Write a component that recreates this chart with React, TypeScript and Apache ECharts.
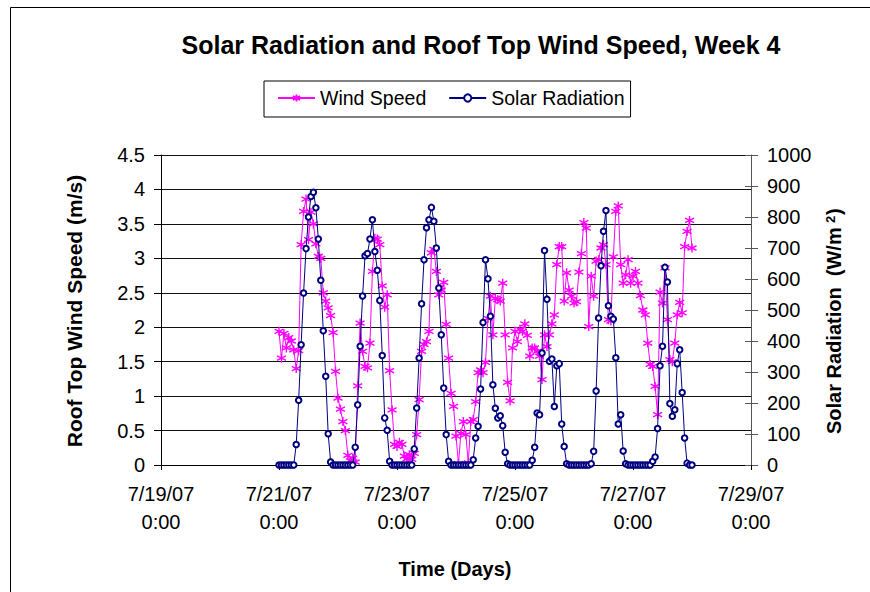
import React, { useEffect, useRef } from "react";
import * as echarts from "echarts";

// Hourly readings starting 7/21/07 0:00; x is measured in hours from 7/19/07 0:00.
const FIRST_HOUR = 48;
const HOURS_PER_TICK = 48;

const xTickLabels = [
  "7/19/07\n0:00",
  "7/21/07\n0:00",
  "7/23/07\n0:00",
  "7/25/07\n0:00",
  "7/27/07\n0:00",
  "7/29/07\n0:00",
];

// Roof top wind speed (m/s), one value per hour
const windSpeed = [
  1.94, 1.55, 1.91, 1.7, 1.85, 1.8, 1.67, 1.4, 1.66, 3.2,
  3.68, 3.86, 3.27, 3.67, 3.5, 3.21, 3.03, 3.0, 2.5, 2.38,
  2.28, 2.17, 1.92, 1.36, 0.97, 0.81, 0.63, 0.5, 0.14, 0.06,
  0.1, 0.04, 1.15, 2.06, 1.65, 1.43, 1.41, 1.77, 2.81, 3.29,
  3.28, 3.2, 2.6, 2.29, 2.47, 1.37, 0.8, 0.3, 0.27, 0.33,
  0.3, 0.13, 0.09, 0.15, 0.08, 0.17, 0.44, 0.95, 1.65, 1.75,
  1.79, 1.94, 3.08, 3.13, 2.81, 2.47, 2.54, 2.65, 2.04, 1.55,
  1.04, 0.85, 0.42, 0.02, 0.46, 0.63, 0.44, 0.03, 0.63, 0.66,
  0.92, 1.34, 1.38, 1.34, 1.49, 2.13, 2.45, 1.89, 2.42, 2.4,
  2.38, 2.64, 1.89, 1.2, 0.93, 1.7, 1.94, 1.79, 1.97, 1.94,
  2.05, 1.88, 1.58, 1.7, 1.7, 1.65, 1.58, 1.24, 1.89, 1.72,
  1.89, 2.05, 2.18, 2.91, 3.17, 3.17, 2.38, 2.79, 2.54, 2.45,
  2.35, 2.37, 2.8, 3.07, 3.52, 3.44, 2.01, 2.74, 2.45, 2.96,
  2.98, 3.15, 3.2, 2.91, 2.11, 2.09, 3.02, 3.68, 3.76, 2.91,
  2.64, 2.76, 2.98, 2.64, 2.74, 2.81, 2.64, 2.46, 2.25, 2.18,
  1.77, 1.46, 1.43, 1.14, 0.73, 2.51, 2.35, 2.86, 2.11, 1.53,
  1.5, 1.77, 2.18, 2.36, 2.21, 3.17, 3.39, 3.55, 3.15,
];

// Solar radiation (W/m2), one value per hour
const solarRadiation = [
  0, 0, 0, 0, 0, 0, 0,
  66, 209, 388, 555, 698, 800, 866, 880, 830, 729, 596, 433, 286, 101, 10,
  0, 0, 0, 0, 0, 0, 0, 0, 0,
  57, 194, 383, 545, 675, 682, 729, 791, 689, 628, 531, 353, 152, 112, 12,
  0, 0, 0, 0, 0, 0, 0, 0, 0,
  52, 184, 345, 520, 662, 765, 791, 831, 786, 700, 571, 420, 248, 98, 12,
  0, 0, 0, 0, 0, 0, 0, 0, 0,
  17, 87, 125, 245, 460, 662, 601, 480, 259, 183, 152, 159, 127, 41, 4,
  0, 0, 0, 0, 0, 0, 0, 0, 0,
  15, 57, 168, 162, 361, 692, 535, 335, 342, 189, 320, 327, 132, 60, 4,
  0, 0, 0, 0, 0, 0, 0, 0, 0,
  4, 44, 239, 474, 643, 754, 821, 514, 480, 471, 346, 132, 162, 45, 4,
  0, 0, 0, 0, 0, 0, 0, 0, 0, 0,
  12, 26, 118, 320, 383, 638, 590, 198, 157, 178, 327, 372, 234, 87, 6, 0, 0,
];

const FONT = '"Liberation Sans", Arial, Helvetica, sans-serif';
const ASTERISK = "path://M4 0L4 8M0.5 2L7.5 6M0.5 6L7.5 2";

const toPoints = (values: number[]) =>
  values.map((v, i) => [FIRST_HOUR + i, v]);

const textStyle = (text: string, font: string, align = "center") => ({
  text,
  font,
  fill: "#000",
  align,
  verticalAlign: "middle",
  textAlign: align,
  textVerticalAlign: "middle",
});

export default function App() {
  const ref = useRef<HTMLDivElement>(null);

  useEffect(() => {
    if (!ref.current) return;
    const chart = echarts.init(ref.current, null, { renderer: "svg" });

    const labelStyle = { fontSize: 20, color: "#000", fontFamily: FONT };

    chart.setOption({
      animation: false,
      backgroundColor: "#fff",
      grid: {
        left: 161,
        top: 155,
        width: 590,
        height: 310,
        outerBoundsMode: "none",
        containLabel: false,
      },
      legend: {
        data: ["Wind Speed", "Solar Radiation"],
        left: 264,
        top: 81,
        orient: "horizontal",
        padding: [7, 6, 9, 13],
        itemWidth: 37,
        itemHeight: 9,
        itemGap: 22,
        borderColor: "#000",
        borderWidth: 1,
        textStyle: { fontSize: 19.5, color: "#000", fontFamily: FONT },
        selectedMode: false,
      },
      xAxis: {
        type: "value",
        min: 0,
        max: 240,
        interval: HOURS_PER_TICK,
        axisLine: { show: true, lineStyle: { color: "#000", width: 1 } },
        axisTick: { show: true, length: 5, lineStyle: { color: "#000" } },
        splitLine: { show: false },
        axisLabel: {
          ...labelStyle,
          lineHeight: 28,
          margin: 15,
          showMinLabel: true,
          showMaxLabel: true,
          hideOverlap: false,
          formatter: (v: number) => xTickLabels[Math.round(v / HOURS_PER_TICK)] ?? "",
        },
      },
      yAxis: [
        {
          type: "value",
          position: "left",
          min: 0,
          max: 4.5,
          interval: 0.5,
          axisLine: { show: true, lineStyle: { color: "#000", width: 1 } },
          axisTick: { show: true, length: 7, lineStyle: { color: "#000" } },
          axisLabel: { ...labelStyle, margin: 16, formatter: (v: number) => String(v) },
          splitLine: { show: true, lineStyle: { color: "#111", width: 1 } },
        },
        {
          type: "value",
          position: "right",
          min: 0,
          max: 1000,
          interval: 100,
          axisLine: { show: true, lineStyle: { color: "#555", width: 1 } },
          axisTick: { show: true, length: 7, lineStyle: { color: "#555" } },
          axisLabel: { ...labelStyle, margin: 16, formatter: (v: number) => String(v) },
          splitLine: { show: false },
        },
        {
          // inner half of the right-hand cross ticks
          type: "value",
          position: "right",
          min: 0,
          max: 1000,
          interval: 100,
          axisLine: { show: false },
          axisTick: { show: true, inside: true, length: 6, lineStyle: { color: "#555" } },
          axisLabel: { show: false },
          splitLine: { show: false },
        },
      ],
      series: [
        {
          name: "Wind Speed",
          type: "line",
          yAxisIndex: 0,
          data: toPoints(windSpeed),
          symbol: ASTERISK,
          symbolSize: 9,
          showSymbol: true,
          showAllSymbol: true,
          lineStyle: { color: "#FF00FF", width: 1 },
          itemStyle: { color: "#FF00FF", borderColor: "#FF00FF", borderWidth: 1.4 },
          emphasis: { disabled: true },
          z: 2,
        },
        {
          name: "Solar Radiation",
          type: "line",
          yAxisIndex: 1,
          data: toPoints(solarRadiation),
          symbol: "emptyCircle",
          symbolSize: 5.5,
          showSymbol: true,
          showAllSymbol: true,
          lineStyle: { color: "#000080", width: 1 },
          itemStyle: { color: "#000080", borderColor: "#000080", borderWidth: 1.3 },
          emphasis: { disabled: true },
          z: 3,
        },
      ],
      graphic: [
        {
          type: "rect",
          silent: true,
          shape: { x: 10.5, y: 7.5, width: 1000, height: 1000 },
          style: { fill: "none", stroke: "#000", lineWidth: 1 },
        },
        {
          type: "text",
          x: 481,
          y: 45,
          style: textStyle("Solar Radiation and Roof Top Wind Speed, Week 4", `bold 25px ${FONT}`),
        },
        {
          type: "text",
          x: 74,
          y: 311,
          rotation: Math.PI / 2,
          style: textStyle("Roof Top Wind Speed (m/s)", `bold 21px ${FONT}`),
        },
        {
          type: "text",
          x: 455,
          y: 569,
          style: textStyle("Time (Days)", `bold 20px ${FONT}`),
        },
        {
          type: "group",
          x: 834,
          y: 434,
          rotation: Math.PI / 2,
          children: [
            {
              type: "text",
              x: 0,
              y: 0,
              style: textStyle("Solar Radiation  (W/m", `bold 20px ${FONT}`, "left"),
            },
            {
              type: "text",
              x: 211,
              y: -4,
              style: textStyle("2", `bold 13px ${FONT}`, "left"),
            },
            {
              type: "text",
              x: 219,
              y: 0,
              style: textStyle(")", `bold 20px ${FONT}`, "left"),
            },
          ],
        },
      ],
    });

    return () => chart.dispose();
  }, []);

  return (
    <div
      ref={ref}
      style={{ position: "absolute", left: 0, top: 0, width: 870, height: 592, background: "#fff" }}
    />
  );
}
